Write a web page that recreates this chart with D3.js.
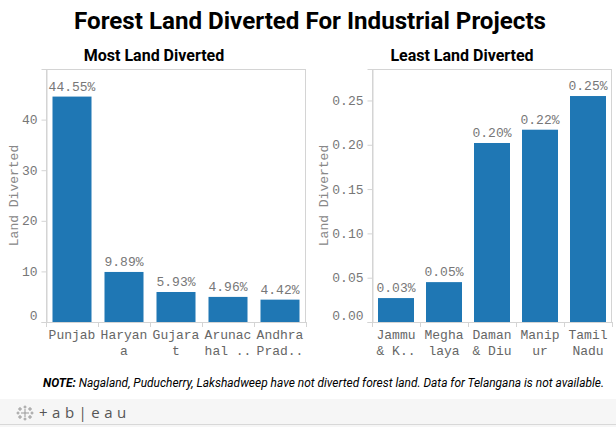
<!DOCTYPE html>
<html><head><meta charset="utf-8">
<script src="https://cdnjs.cloudflare.com/ajax/libs/d3/7.8.5/d3.min.js"></script>
<style>
html,body{margin:0;padding:0;background:#fff;}
svg text{font-family:"Courier New","Liberation Mono",monospace;}
</style></head>
<body><svg id="c" width="616" height="427"></svg>
<script>
// ---- data ----
const mostStates = ["Punjab","Haryana","Gujarat","Arunachal Pradesh","Andhra Pradesh"];
const mostLabels = [["Punjab"],["Haryan","a"],["Gujara","t"],["Arunac","hal .."],["Andhra","Prad.."]];
const mostValues = [44.55, 9.89, 5.93, 4.96, 4.42];
const mostValueText = ["44.55%","9.89%","5.93%","4.96%","4.42%"];
const mostTicks = [0, 10, 20, 30, 40];

const leastStates = ["Jammu & Kashmir","Meghalaya","Daman & Diu","Manipur","Tamil Nadu"];
const leastLabels = [["Jammu","& K.."],["Megha","laya"],["Daman","& Diu"],["Manip","ur"],["Tamil","Nadu"]];
const leastValues = [0.027, 0.045, 0.202, 0.217, 0.255];
const leastValueText = ["0.03%","0.05%","0.20%","0.22%","0.25%"];
const leastTicks = [0, 0.05, 0.10, 0.15, 0.20, 0.25];

const title = "Forest Land Diverted For Industrial Projects";
const noteBold = "NOTE:";
const noteText = " Nagaland, Puducherry, Lakshadweep have not diverted forest land. Data for Telangana is not available.";

const svg = d3.select("#c");
const BAR = "#1f77b4", GRID = "#d4d4d4";
const yTop = 69, yBase = 322;

svg.append("text").attr("x", 310).attr("y", 29).attr("text-anchor","middle")
  .style("font-family","Roboto, sans-serif").style("font-weight","bold").style("font-size","24px")
  .attr("textLength", 472).attr("lengthAdjust","spacingAndGlyphs")
  .attr("fill","#000").text(title);

function panel(opt){
  const x = d3.scaleBand().domain(opt.states).range([opt.x0, opt.x1]).paddingInner(0.25).paddingOuter(0.125);
  const y = d3.scaleLinear().domain([0, opt.ymax]).range([yBase, yTop]);
  const g = svg.append("g");
  g.append("text").attr("x", opt.subX).attr("y", 61).attr("text-anchor","middle")
    .style("font-family","Roboto, sans-serif").style("font-weight","bold").style("font-size","16px")
    .attr("fill","#000").text(opt.sub);
  g.append("rect").attr("x", opt.x0+0.5).attr("y", yTop+0.5).attr("width", opt.x1-opt.x0-1)
    .attr("height", yBase-yTop).attr("fill","none").attr("stroke", GRID);
  const ya = g.append("g").attr("transform",`translate(${opt.x0+0.5},0)`)
    .call(d3.axisLeft(y).tickValues(opt.ticks).tickFormat(opt.fmt).tickSize(5).tickPadding(4));
  ya.select(".domain").attr("stroke", GRID);
  ya.selectAll(".tick line").attr("stroke", GRID);
  ya.selectAll(".tick text").attr("fill", "#777").style("font-size","13px")
    .style("font-family","'Courier New','Liberation Mono',monospace")
    .attr("dy", d => d === 0 ? "-0.2em" : "0.32em");
  g.append("text").attr("transform",`translate(${opt.titleX},${(yTop+yBase)/2}) rotate(-90)`)
    .attr("text-anchor","middle").attr("dy","0.35em").attr("fill","#888").style("font-size","13px")
    .text("Land Diverted");
  g.selectAll("rect.bar").data(opt.values).join("rect").attr("class","bar")
    .attr("x",(d,i)=>x(opt.states[i])).attr("width", x.bandwidth())
    .attr("y", d=>y(d)).attr("height", d=>yBase - y(d)).attr("fill", BAR);
  g.selectAll("text.val").data(opt.values).join("text").attr("class","val")
    .attr("x",(d,i)=>x(opt.states[i]) + x.bandwidth()/2).attr("y", d=>y(d)-6)
    .attr("text-anchor","middle").attr("fill", "#777").style("font-size","13px")
    .text((d,i)=>opt.valText[i]);
  g.append("line").attr("x1",opt.x0).attr("x2",opt.x1).attr("y1",yBase+0.5).attr("y2",yBase+0.5).attr("stroke",GRID);
  const step = x.step();
  const edges = d3.range(opt.states.length+1).map(i => opt.x0 + i*step);
  g.selectAll("line.sep").data(edges).join("line").attr("class","sep")
    .attr("x1",d=>Math.round(d)+0.5).attr("x2",d=>Math.round(d)+0.5).attr("y1",yBase).attr("y2",yBase+5).attr("stroke",GRID);
  const lab = g.selectAll("text.cat").data(opt.states).join("text").attr("class","cat")
    .attr("text-anchor","middle").attr("fill", "#666").style("font-size","13px");
  lab.each(function(d,i){
    const t = d3.select(this);
    opt.labels[i].forEach((s,j)=>{
      t.append("tspan").attr("x", x(d)+x.bandwidth()/2).attr("y", 339 + j*16).text(s);
    });
  });
}

panel({states: mostStates, labels: mostLabels, values: mostValues, ticks: mostTicks, ymax: 50,
  x0: 46, x1: 306, subX: 154, sub: "Most Land Diverted", titleX: 13, fmt: d3.format("d"),
  valText: mostValueText});
panel({states: leastStates, labels: leastLabels, values: leastValues, ticks: leastTicks, ymax: 0.2855,
  x0: 372, x1: 612, subX: 462, sub: "Least Land Diverted", titleX: 323, fmt: d3.format(".2f"),
  valText: leastValueText});

const note = svg.append("text").attr("x", 43).attr("y", 387)
  .style("font-family","Roboto, sans-serif").style("font-size","12px").style("font-style","italic")
  .attr("textLength", 561).attr("lengthAdjust","spacingAndGlyphs")
  .attr("fill","#000");
note.append("tspan").style("font-weight","bold").text(noteBold);
note.append("tspan").text(noteText);

svg.append("rect").attr("x",0).attr("y",399).attr("width",616).attr("height",28).attr("fill","#f6f6f6");
svg.append("line").attr("x1",0).attr("x2",616).attr("y1",424.5).attr("y2",424.5).attr("stroke","#d8d8d8");
const logo = svg.append("g").attr("transform","translate(25,413)").attr("stroke","#999").attr("stroke-width",1);
[[0,0,4],[-5,-4,2],[5,-4,2],[-5,4,2],[5,4,2],[0,-6,1.5],[0,6,1.5],[-7,0,1.5],[7,0,1.5]].forEach(([cx,cy,r])=>{
  logo.append("line").attr("x1",cx-r).attr("x2",cx+r).attr("y1",cy).attr("y2",cy);
  logo.append("line").attr("x1",cx).attr("x2",cx).attr("y1",cy-r).attr("y2",cy+r);
});
svg.append("text").attr("x",39).attr("y",418).style("font-family","'Open Sans', sans-serif")
  .style("font-size","15px").attr("fill","#555").style("letter-spacing","4.5px").text("+ab|eau");
</script>
</body></html>
